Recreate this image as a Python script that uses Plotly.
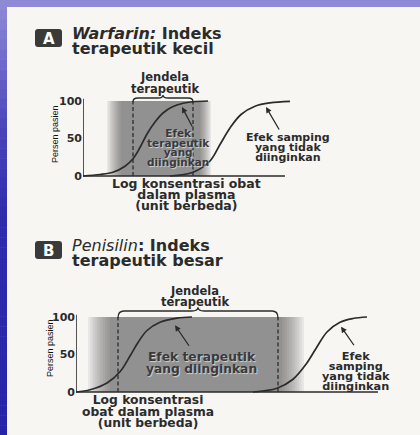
import plotly.graph_objects as go

W, H = 420, 435

# ---------------- data ----------------
pct_ticks = [0, 50, 100]
pct_labels = ["0", "50", "100"]

# Panel A: Warfarin
a_ther_x = [0, 1.7, 3.0, 4.2, 5.0, 5.7, 6.4, 7.2, 8.0, 8.9, 10.0, 11.0, 12.5]
a_ther_y = [0, 2, 5, 13, 23, 38, 56, 72, 84, 92, 97, 99, 100]
a_side_x = [8.7, 11.0, 12.7, 13.7, 14.7, 15.8, 17.2, 18.7, 20.7]
a_side_y = [0, 5, 20, 42, 64, 82, 93, 97.5, 99.5]
a_window = [5.0, 11.0]
a_shade = [2.4, 12.8]
a_axis_end = 20.2

# Panel B: Penisilin
b_ther_x = [0, 1.4, 3.1, 4.4, 5.4, 6.2, 7.1, 8.4, 10.1, 11.6]
b_ther_y = [0, 3, 12, 27, 48, 66, 82, 93, 98.5, 100]
b_side_x = [17.7, 20.1, 21.7, 23.0, 24.0, 25.1, 26.4, 27.7, 29.1]
b_side_y = [0, 5, 17, 37, 58, 80, 93, 98, 100]
b_window = [4.2, 20.2]
b_shade = [1.2, 22.8]
b_axis_end = 30.2

INK = "#2b2b2b"
FONT = "DejaVu Sans"
PAPER = "#f7f6f3"


def px(x):
    return x / W


def py(y):
    return 1 - y / H


fig = go.Figure()


def ydom(y0px, y100px, lo=-10, hi=130):
    s = (y0px - y100px) / 100.0
    bottom = y0px - lo * s
    top = y0px - hi * s
    return [py(bottom), py(top)]


tick_font = dict(family=FONT, size=11, color=INK)
yax_common = dict(range=[-10, 130], showgrid=False, zeroline=False, showline=False,
                  tickvals=pct_ticks, ticktext=[f"<b>{t}</b>" for t in pct_labels],
                  ticks="", tickfont=tick_font, fixedrange=True)
xax_common = dict(visible=False, fixedrange=True)

fig.update_layout(
    xaxis=dict(domain=[px(83), px(303)], range=[0, 22], anchor="y", **xax_common),
    yaxis=dict(domain=ydom(176, 101), anchor="x", **yax_common),
    xaxis2=dict(domain=[px(76), px(396)], range=[0, 32], anchor="y2", **xax_common),
    yaxis2=dict(domain=ydom(392, 317), anchor="x2", **yax_common),
)

line_style = dict(color=INK, width=1.7)
dash_style = dict(color="#333333", width=1.4, dash="4px,2.5px")


def add_panel(xa, ya, ther_x, ther_y, side_x, side_y, window, axis_end):
    fig.add_trace(go.Scatter(x=[0, 0], y=[0, 103], mode="lines", line=dict(color=INK, width=1.6),
                             xaxis=xa, yaxis=ya, hoverinfo="skip", showlegend=False))
    fig.add_trace(go.Scatter(x=[0, axis_end], y=[0, 0], mode="lines", line=dict(color=INK, width=1.6),
                             xaxis=xa, yaxis=ya, hoverinfo="skip", showlegend=False))
    for w in window:
        fig.add_trace(go.Scatter(x=[w, w], y=[0, 100], mode="lines", line=dash_style,
                                 xaxis=xa, yaxis=ya, hoverinfo="skip", showlegend=False))
    fig.add_trace(go.Scatter(x=ther_x, y=ther_y, mode="lines", line=dict(shape="spline", smoothing=1.0, **line_style),
                             xaxis=xa, yaxis=ya, showlegend=False))
    fig.add_trace(go.Scatter(x=side_x, y=side_y, mode="lines", line=dict(shape="spline", smoothing=1.0, **line_style),
                             xaxis=xa, yaxis=ya, showlegend=False))


add_panel("x", "y", a_ther_x, a_ther_y, a_side_x, a_side_y, a_window, a_axis_end)
add_panel("x2", "y2", b_ther_x, b_ther_y, b_side_x, b_side_y, b_window, b_axis_end)

shapes = []

# ---------------- blue slide background strips ----------------
stops = [(0, (146, 141, 216)), (60, (112, 107, 202)), (130, (72, 68, 186)),
         (220, (46, 43, 172)), (435, (38, 36, 168))]


def col_at(y):
    for (y0, c0), (y1, c1) in zip(stops[:-1], stops[1:]):
        if y0 <= y <= y1:
            t = (y - y0) / (y1 - y0)
            return tuple(int(round(a + (b - a) * t)) for a, b in zip(c0, c1))
    return stops[-1][1]


n_strips = 44
for i in range(n_strips):
    y0 = i * H / n_strips
    y1 = (i + 1) * H / n_strips + 0.5
    c = col_at((y0 + y1) / 2)
    shapes.append(dict(type="rect", xref="paper", yref="paper", x0=px(0), x1=px(7),
                       y0=py(y1), y1=py(y0), fillcolor="rgb(%d,%d,%d)" % c, line_width=0, layer="below"))
shapes.append(dict(type="rect", xref="paper", yref="paper", x0=px(0), x1=px(W), y0=py(7), y1=py(0),
                   fillcolor="rgb(142,138,214)", line_width=0, layer="below"))


# ---------------- shaded therapeutic zones (soft edges) ----------------
def shade(xref, yref, x0, x1, fl, fr, n=10, color="rgba(80,80,80,0.085)"):
    for i in range(n):
        t = i / (n - 1)
        shapes.append(dict(type="rect", xref=xref, yref=yref, x0=x0 + fl * t, x1=x1 - fr * t,
                           y0=0, y1=100, fillcolor=color, line_width=0, layer="below"))


shade("x", "y", a_shade[0], a_shade[1], 1.4, 1.1)
shade("x2", "y2", b_shade[0], b_shade[1], 2.2, 2.2)


# ---------------- braces ----------------
def brace(xref, yref, x0, x1, yb, yh, yp, r):
    xm = (x0 + x1) / 2
    path = (f"M {x0},{yb} Q {x0},{yh} {x0 + r},{yh} L {xm - r},{yh} "
            f"Q {xm},{yh} {xm},{yp} Q {xm},{yh} {xm + r},{yh} "
            f"L {x1 - r},{yh} Q {x1},{yh} {x1},{yb}")
    shapes.append(dict(type="path", xref=xref, yref=yref, path=path,
                       line=dict(color=INK, width=1.3)))


brace("x", "y", a_window[0], a_window[1], 99, 104, 108, 0.5)
brace("x2", "y2", b_window[0], b_window[1], 99, 108, 113, 0.6)


# ---------------- letter boxes ----------------
def rounded_box(x0, y0, x1, y1, r):
    X0, X1 = px(x0), px(x1)
    Y0, Y1 = py(y0), py(y1)
    rx, ry = r / W, r / H
    path = (f"M {X0 + rx},{Y0} L {X1 - rx},{Y0} Q {X1},{Y0} {X1},{Y0 - ry} "
            f"L {X1},{Y1 + ry} Q {X1},{Y1} {X1 - rx},{Y1} L {X0 + rx},{Y1} "
            f"Q {X0},{Y1} {X0},{Y1 + ry} L {X0},{Y0 - ry} Q {X0},{Y0} {X0 + rx},{Y0} Z")
    shapes.append(dict(type="path", xref="paper", yref="paper", path=path,
                       fillcolor="#3a3a3a", line_width=0))


rounded_box(35, 29, 62, 47, 3)
rounded_box(35, 241, 62, 259, 3)

annotations = []


def txt(s, x, y, size, xanchor="center", color=INK, family=FONT, angle=0, shadow=None):
    f = dict(family=family, size=size, color=color)
    if shadow:
        f["shadow"] = shadow
    annotations.append(dict(text=s, x=px(x), y=py(y), xref="paper", yref="paper",
                            xanchor=xanchor, yanchor="middle", showarrow=False,
                            font=f, textangle=angle, borderpad=0))


def block(lines, x, y_first, spacing, size, xanchor="center", color=INK, shadow=None, bold=True):
    """Multi-line label as ONE text element; spacing set via base font size."""
    base = spacing / 1.3
    parts = []
    for ln in lines:
        inner = f"<b>{ln}</b>" if bold else ln
        parts.append(f"<span style='font-size:{size}px'>{inner}</span>")
    yc = y_first + spacing * (len(lines) - 1) / 2.0
    f = dict(family=FONT, size=base, color=color)
    if shadow:
        f["shadow"] = shadow
    annotations.append(dict(text="<br>".join(parts), x=px(x), y=py(yc), xref="paper", yref="paper",
                            xanchor=xanchor, yanchor="middle", showarrow=False,
                            align="left" if xanchor == "left" else "center",
                            font=f, borderpad=0))


# titles
txt("<b>A</b>", 48.5, 38.5, 15, color="white")
block(["<i>Warfarin:</i> Indeks", "terapeutik kecil"], 71, 33.5, 14.5, 16, xanchor="left")
txt("<b>B</b>", 48.5, 250.5, 15, color="white")
block(["<i style='font-weight:normal'>Penisilin</i><b>: Indeks</b>", "<b>terapeutik besar</b>"],
      71, 245.5, 14.5, 16, xanchor="left", bold=False)

# window labels
block(["Jendela", "terapeutik"], 165, 77, 11.5, 11.5)
block(["Jendela", "terapeutik"], 195, 291, 11, 11.5)

# y axis titles
ytfam = "Liberation Sans Narrow, Liberation Sans, Arial"
txt("Persen pasien", 55, 134, 9, family=ytfam, angle=-90, color="#111")
txt("Persen pasien", 50, 348, 9, family=ytfam, angle=-90, color="#111")

# x axis labels
block(["Log konsentrasi obat", "dalam plasma", "(unit berbeda)"], 186, 183.5, 11, 12.5)
block(["Log konsentrasi", "obat dalam plasma", "(unit berbeda)"], 148, 399.5, 11.5, 12.3)

# curve labels
halo = "1px 1px 1px rgba(255,255,255,0.6)"
block(["Efek", "terapeutik", "yang", "diinginkan"], 178, 133, 9.5, 10.5, color="#3a3a3a", shadow=halo)
block(["Efek samping", "yang tidak", "diinginkan"], 288, 137.5, 10, 11)
block(["Efek terapeutik", "yang diinginkan"], 201, 357, 11.5, 12.3, color="#3a3a3a", shadow=halo)
block(["Efek", "samping", "yang tidak", "diinginkan"], 356, 356.5, 10, 11.3)


def arrow(xref, yref, x, y, ax, ay):
    annotations.append(dict(text="", x=x, y=y, xref=xref, yref=yref, ax=ax, ay=ay,
                            showarrow=True, arrowhead=2, arrowsize=0.9, arrowwidth=1.3,
                            arrowcolor=INK, standoff=0))


arrow("x", "y", 9.9, 92, 11, 21)
arrow("x", "y", 18.3, 92, 14, 24)
arrow("x2", "y2", 9.9, 89, 15, 22)
arrow("x2", "y2", 26.5, 87, 14, 20)

fig.update_layout(
    width=W, height=H, margin=dict(l=0, r=0, t=0, b=0),
    paper_bgcolor=PAPER, plot_bgcolor="rgba(0,0,0,0)",
    shapes=shapes, annotations=annotations, showlegend=False,
)

fig.write_html("out.html", config={"displayModeBar": False},
               post_script="document.body.style.margin='0';")
